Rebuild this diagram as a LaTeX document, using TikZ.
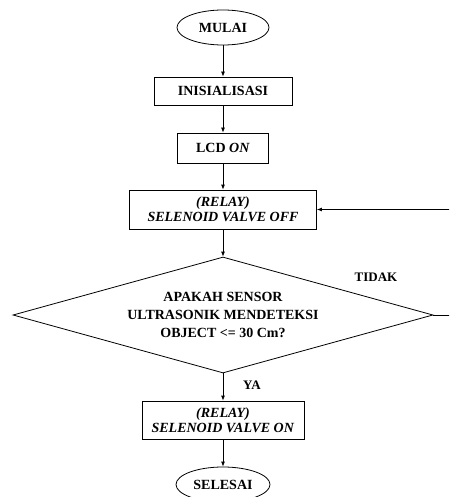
\documentclass[tikz,border=0pt]{standalone}
\usepackage{fontspec}
\setmainfont{Liberation Serif}
\usetikzlibrary{arrows.meta, shapes.geometric}
\tikzset{>={Latex[length=5pt,width=4pt]}}
\tikzset{
	proses/.style = {draw, rectangle, thick, align=center, font=\bfseries\fontsize{14}{15}\selectfont},
	terminal/.style = {draw, ellipse, thick, font=\bfseries\fontsize{14}{15}\selectfont},
	keputusan/.style = {draw, diamond, thick, align=center, inner sep=0pt, aspect=3.6, minimum width=420pt, minimum height=116pt, font=\bfseries\fontsize{14}{18}\selectfont},
	jawab/.style = {font=\bfseries\fontsize{13}{15}\selectfont}
}

\begin{document}
\begin{tikzpicture}[x=1pt, y=-1pt, line width=0.8pt]
	\useasboundingbox (0,0) rectangle (449,497);
	\clip (0,0) rectangle (449,497);
	\node [terminal, minimum width=92pt, minimum height=35pt] (mulai) at (223,27.5) {MULAI};
	\node [proses, minimum width=138pt, minimum height=28pt] (init) at (223,91) {INISIALISASI};
	\node [proses, minimum width=91pt, minimum height=30pt] (lcd) at (223,148) {LCD \textit{ON}};
	\node [proses, minimum width=187pt, minimum height=39pt, inner sep=1pt] (off) at (223,209.5) {\textit{(RELAY)}\\\textit{SELENOID VALVE OFF}};
	\node [keputusan] (cek) at (223,315) {APAKAH SENSOR\\ULTRASONIK MENDETEKSI\\OBJECT <= 30 Cm?};
	\node [proses, minimum width=162pt, minimum height=38pt, inner sep=1pt] (on) at (223,420) {\textit{(RELAY)}\\\textit{SELENOID VALVE ON}};
	\node [terminal, minimum width=94pt, minimum height=35pt] (selesai) at (223,484.5) {SELESAI};
	\coordinate (kanan) at (460,315);
	\coordinate (atas) at (460,209.5);
	\draw [->] (mulai) -- (init);
	\draw [->] (init) -- (lcd);
	\draw [->] (lcd) -- (off);
	\draw [->] (off) -- (cek);
	\draw [->] (cek) -- (on);
	\draw [->] (on) -- (selesai);
	\draw [->] (cek.east) -- (kanan) -- (atas) -- (off.east);
	\node [jawab] (tidak) at (376,277) {TIDAK};
	\node [jawab] (ya) at (252,385) {YA};
\end{tikzpicture}
\end{document}
